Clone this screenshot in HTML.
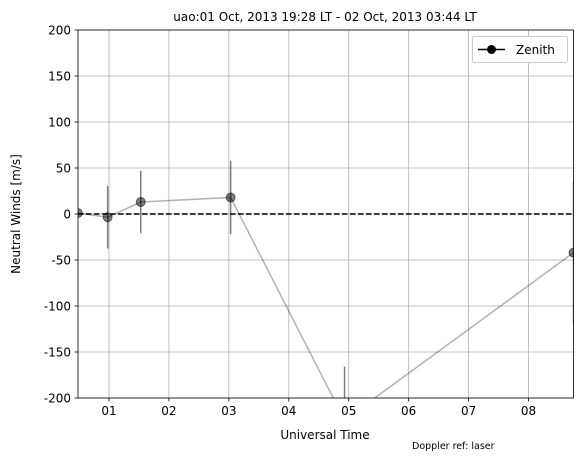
<!DOCTYPE html>
<html><head><meta charset="utf-8"><style>
body{margin:0;background:#fff;width:586px;height:461px;overflow:hidden;font-family:"Liberation Sans","DejaVu Sans",sans-serif}
text{font-family:"DejaVu Sans","Liberation Sans",sans-serif}
</style></head><body>
<svg id="c" width="586" height="461"></svg>
<script>
const hours=[0.48,0.978,1.53,3.03,4.93,8.75];
const winds=[1,-3.5,13,18,-224,-42];
const errs=[0,34,34,40,58,77];
const xTicks=[1,2,3,4,5,6,7,8];
const xTickLabels=["01","02","03","04","05","06","07","08"];
const yTicks=[-200,-150,-100,-50,0,50,100,150,200];
const L=78,R=573.5,T=30,B=398,x0=0.483,x1=8.75,y0=-200,y1=200;
const X=h=>L+(h-x0)/(x1-x0)*(R-L);
const Y=v=>B-(v-y0)/(y1-y0)*(B-T);
const svg=document.getElementById('c');
const NS="http://www.w3.org/2000/svg";
function mk(t,a,p){const e=document.createElementNS(NS,t);for(const k in a)e.setAttribute(k,a[k]);(p||svg).appendChild(e);return e;}
const defs=mk('defs',{});const cp=mk('clipPath',{id:'cp'},defs);mk('rect',{x:L,y:T,width:R-L,height:B-T},cp);
// grid
xTicks.forEach((t,i)=>{const g=mk('line',{x1:X(t),x2:X(t),y1:T,y2:B,stroke:'#b0b0b0','stroke-width':0.8});

const k=mk('line',{x1:X(t),x2:X(t),y1:B,y2:B+3.5,stroke:'#000','stroke-width':0.8});
const tx=mk('text',{x:X(t),y:B+17,'text-anchor':'middle','font-size':12});tx.textContent=xTickLabels[i];
});
yTicks.forEach(t=>{const g=mk('line',{x1:L,x2:R,y1:Y(t),y2:Y(t),stroke:'#b0b0b0','stroke-width':0.8});

mk('line',{x1:L-3.5,x2:L,y1:Y(t),y2:Y(t),stroke:'#000','stroke-width':0.8});
const tx=mk('text',{x:L-7,y:Y(t)+4.5,'text-anchor':'end','font-size':12});tx.textContent=t;
});
const g=mk('g',{'clip-path':'url(#cp)'});
const z=mk('line',{x1:L,x2:R,y1:Y(0),y2:Y(0),stroke:'#000','stroke-width':1.5,'stroke-dasharray':'5.5,2.5'},g);

const pl=mk('polyline',{points:hours.map((h,i)=>X(h)+','+Y(winds[i])).join(' '),fill:'none',stroke:'#000','stroke-opacity':0.3,'stroke-width':1.5},g);

hours.forEach((h,i)=>{
const e=mk('line',{x1:X(h),x2:X(h),y1:Y(winds[i]+errs[i]),y2:Y(winds[i]-errs[i]),stroke:'#000','stroke-opacity':0.5,'stroke-width':1.5},g);

const c=mk('circle',{cx:X(h),cy:Y(winds[i]),r:4.5,fill:'#000','fill-opacity':0.5,stroke:'#000','stroke-opacity':0.5},g);
});
const fr=mk('rect',{x:L,y:T,width:R-L,height:B-T,fill:'none',stroke:'#000','stroke-width':0.8});

</script>
<svg width="586" height="461" style="position:absolute;left:0;top:0">
<text x="325" y="21" text-anchor="middle" font-size="12">uao:01 Oct, 2013 19:28 LT - 02 Oct, 2013 03:44 LT</text>
<text x="325" y="439" text-anchor="middle" font-size="12">Universal Time</text>
<text x="20" y="214" text-anchor="middle" font-size="12" transform="rotate(-90 20 214)">Neutral Winds [m/s]</text>
<text x="412" y="449" font-size="9.5">Doppler ref: laser</text>
<g>
<rect x="472.5" y="36.5" width="95" height="26" rx="2" fill="#fff" stroke="#ccc"/>
<line x1="478" x2="505" y1="49.5" y2="49.5" stroke="#000" stroke-width="1.5"/>
<circle cx="491.5" cy="49.5" r="4.5" fill="#000"/>
<text x="516" y="54" font-size="12">Zenith</text>
</g>
</svg>
</body></html>
